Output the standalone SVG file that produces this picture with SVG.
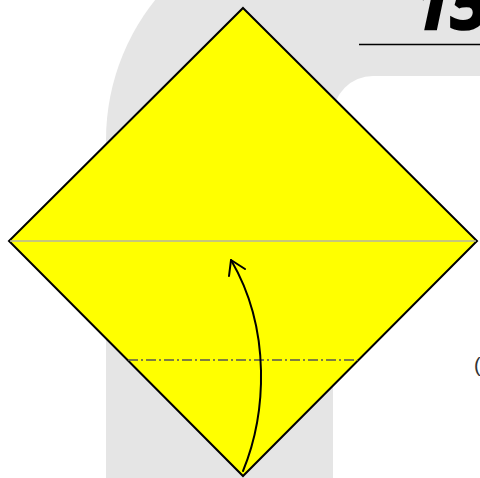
<svg xmlns="http://www.w3.org/2000/svg" width="480" height="478" viewBox="0 0 480 478">
<style>
.bg{fill:#e5e5e5}
.paper{fill:#ffff00;stroke:#000;stroke-width:2;stroke-linejoin:miter}
.crease{stroke:#b4b4a0;stroke-width:1.5;fill:none}
.valley{stroke:#555;stroke-width:1.5;fill:none;stroke-dasharray:10,3,2,3}
.arrow{stroke:#000;stroke-width:2;fill:none;stroke-linecap:round;stroke-linejoin:round}
</style>
<rect width="480" height="478" fill="#fff"/>
<g id="background">
<path class="bg" d="M106,478 L106,140 A224,224 0 0 1 330,-84 L480,-84 L480,478 Z"/>
<path fill="#fff" d="M333,478 L333,116 A40,40 0 0 1 373,76 L480,76 L480,478 Z"/>
</g>
<g id="step-number">
<text x="413" y="29" font-family="'Open Sans','Liberation Sans',sans-serif" font-weight="bold" font-style="italic" font-size="68" fill="#000" stroke="#000" stroke-width="2.5">15</text>
<line x1="359" y1="44.5" x2="480" y2="44.5" stroke="#000" stroke-width="1.5"/>
</g>
<g id="paper">
<polygon class="paper" points="243,8 477,241 243,476 9,241"/>
<line class="crease" x1="10" y1="241" x2="476" y2="241"/>
<line class="valley" x1="128" y1="360" x2="358" y2="360"/>
</g>
<g id="connectors">
<path class="arrow" d="M243,471 C266,415 272,330 231,260"/>
<path class="arrow" d="M229,276 L231,260 L245,269"/>
</g>
<text x="474" y="372" font-family="'Liberation Sans',sans-serif" font-size="20" fill="#333">(</text>
</svg>
